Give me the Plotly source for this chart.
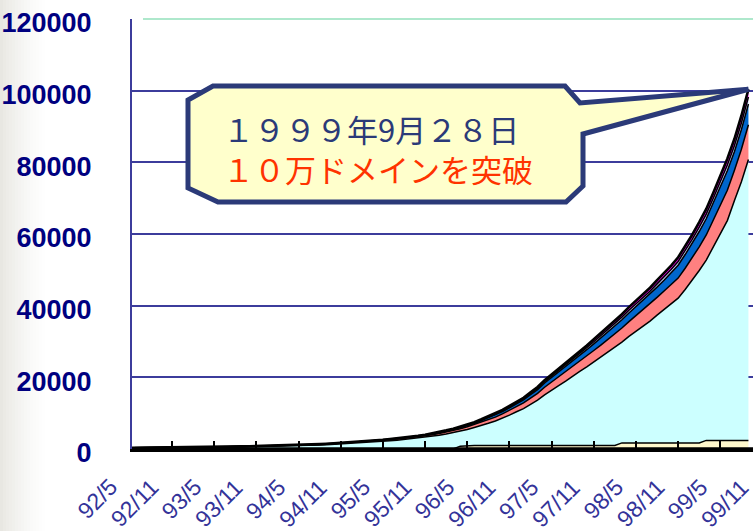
import plotly.graph_objects as go

# ---------------- data ----------------
# monthly categories 92/5 .. 99/9
months = []
_y, _m = 92, 5
while (_y, _m) <= (99, 9):
    months.append(f"{_y}/{_m}")
    _m += 1
    if _m > 12:
        _m, _y = 1, _y + 1

tick_labels = ["92/5", "92/11", "93/5", "93/11", "94/5", "94/11", "95/5", "95/11",
               "96/5", "96/11", "97/5", "97/11", "98/5", "98/11", "99/5", "99/11"]

cream = [0, 0, 0, 0, 0, 0, 0, 0, 0, 0, 0, 0, 0, 0, 0, 0, 0, 0, 0, 0,
         0, 0, 0, 0, 0, 0, 0, 0, 0, 0, 0, 0, 0, 0, 0, 0, 0, 0, 0, 0,
         0, 0, 0, 0, 0, 0, 0, 800, 1000, 1000, 1000, 1000, 1000, 1000, 1000, 1000, 1000,
         1000, 1000, 1000, 1000, 1000, 1000, 1000, 1000, 1000, 1000, 1000, 1000, 1000,
         1700, 1700, 1700, 1700, 1700, 1700, 1700, 1700, 1700, 1700, 1700, 1700,
         2400, 2400, 2400, 2400, 2400, 2400, 2400]

cyan = [285, 290, 310, 320, 335, 350, 365, 385, 400, 415, 440, 465, 490, 510, 535,
        560, 590, 620, 655, 695, 725, 760, 805, 850, 900, 960, 1025, 1105, 1180, 1280,
        1385, 1495, 1610, 1735, 1855, 1985, 2120, 2285, 2445, 2645, 2855, 3060,
        3205, 3485, 3815, 4165, 4530, 4175, 4450, 5020, 5535, 6170, 6800, 7590, 8455,
        9395, 10270, 11455, 12630, 14130, 15510, 16700, 17970, 19395, 20660, 21935,
        23290, 24635, 25985, 27495, 28150, 29725, 31150, 32660, 34010, 35680, 37270,
        38935, 40395, 42835, 45360, 48105, 50325, 53875, 57555, 61335, 66845, 72175, 78380]

salmon = [40, 45, 45, 45, 50, 50, 55, 55, 60, 60, 65, 70, 70, 75, 80, 85, 85, 90, 95, 100,
          105, 115, 120, 125, 130, 140, 150, 160, 175, 190, 205, 220, 240, 255, 275, 295,
          310, 335, 350, 365, 380, 395,
          440, 480, 520, 570, 620, 680, 750, 825, 915, 1000, 1090, 1200, 1320, 1450, 1575,
          1740, 1905, 2110, 2175, 2330, 2495, 2685, 2855, 3020, 3195, 3375, 3555, 3750,
          3925, 4135, 4330, 4525, 4705, 4925, 5130, 5350, 5595, 5915, 6250, 6615, 7000,
          7470, 7965, 8465, 8500, 9100, 9700]

blue = [10, 10, 10, 10, 10, 15, 15, 15, 15, 15, 15, 15, 20, 20, 20, 20, 20, 25, 25, 25,
        25, 30, 30, 30, 35, 35, 40, 40, 45, 45, 50, 55, 60, 65, 70, 75, 80, 85, 90, 100,
        105, 110,
        190, 205, 225, 245, 270, 290, 325, 350, 505, 555, 600, 660, 730, 805, 870, 960,
        1055, 1170, 1260, 1355, 1450, 1560, 1660, 1755, 1855, 1965, 2065, 2180, 2280,
        2405, 2520, 2635, 2735, 2860, 2985, 3110, 3610, 3820, 4035, 4275, 4525, 4825,
        5145, 5470, 5200, 5500, 5800]

lavender = [5, 5, 5, 5, 5, 5, 5, 5, 5, 10, 10, 10, 10, 10, 10, 10, 10, 10, 10, 15,
            15, 15, 15, 15, 15, 20, 20, 20, 20, 25, 25, 25, 30, 30, 35, 35, 40, 40, 45, 50,
            50, 55,
            80, 85, 90, 105, 110, 125, 130, 145, 165, 175, 195, 215, 235, 260, 280, 305,
            340, 375, 405, 435, 470, 500, 535, 565, 600, 630, 665, 700, 735, 775, 805, 845,
            880, 915, 955, 1000, 1040, 1105, 1165, 1235, 1305, 1390, 1490, 1580, 1690,
            1815, 1955]

magenta = [10, 10, 10, 10, 10, 10, 10, 10, 10, 10, 10, 10, 15, 15, 15, 15, 15, 15, 15, 15,
           20, 20, 20, 20, 20, 25, 25, 25, 30, 30, 35, 35, 40, 45, 45, 50, 50, 55, 60, 65,
           70, 75,
           85, 95, 100, 115, 120, 130, 145, 160, 180, 200, 215, 235, 260, 290, 305, 340,
           370, 415, 450, 480, 515, 560, 590, 625, 660, 695, 730, 775, 810, 860, 895, 935,
           970, 1020, 1060, 1105, 1160, 1225, 1290, 1370, 1445, 1540, 1645, 1750, 1865,
           2010, 2165]

callout_line1 = "１９９９年9月２８日"
callout_line2 = "１０万ドメインを突破"

# ---------------- layout constants ----------------
W, H = 753, 531
ML, MR, MT, MB = 132, 0, 19, 82
PW, PH = W - ML - MR, H - MT - MB
XR = [0.3, 88.65]
YR = [0, 120000]


def pxx(px):      # pixel -> paper x
    return (px - ML) / PW


def pxy(py):      # pixel -> paper y
    return (H - MB - py) / PH


def dx2paper(v):  # data x (category index) -> paper
    return (v - XR[0]) / (XR[1] - XR[0])


def dx2px(v):
    return ML + dx2paper(v) * PW


def dy2paper(v):
    return (v - YR[0]) / (YR[1] - YR[0])


fig = go.Figure()

series = [
    (cream, "#FFF8CC"),
    (cyan, "#CCFFFF"),
    (salmon, "#FF8080"),
    (blue, "#0066CC"),
    (lavender, "#CCCCFF"),
    (magenta, "#FF00FF"),
]
for i, (vals, col) in enumerate(series):
    fig.add_trace(go.Scatter(
        x=months, y=vals, mode="lines", stackgroup="one",
        line=dict(color="black", width=2.6 if i == len(series) - 1 else 1.5),
        fillcolor=col, hoverinfo="skip", showlegend=False))

tick_idx = list(range(0, len(months), 6))
tickvals = [months[i] for i in tick_idx]

fig.update_layout(
    width=W, height=H, template="none",
    margin=dict(l=ML, r=MR, t=MT, b=MB, pad=0),
    paper_bgcolor="white", plot_bgcolor="white",
    showlegend=False,
    xaxis=dict(
        type="category", range=XR, automargin=False,
        tickmode="array", tickvals=tickvals, showticklabels=False,
        ticks="inside", ticklen=8, tickwidth=2, tickcolor="black",
        showline=True, linecolor="black", linewidth=3,
        showgrid=False, zeroline=False,
    ),
    yaxis=dict(
        range=YR, automargin=False, tickmode="linear", tick0=0, dtick=20000,
        tickformat="d", ticklabeloverflow="allow",
        showgrid=True, gridcolor="#3C3C9C", gridwidth=2,
        showline=True, linecolor="#3C3C9C", linewidth=2,
        zeroline=False, ticks="",
        ticklabelstandoff=33, ticklabelshift=4,
        tickfont=dict(family="Liberation Sans, Arial, sans-serif",
                      size=27, color="#000080", weight="bold"),
    ),
)

shapes = []
# left-edge grey gradient of the page
n = 16
for k in range(n):
    a = 0.5 * (1 - k / n) ** 1.5
    shapes.append(dict(type="rect", xref="paper", yref="paper",
                       x0=pxx(k * 3), x1=pxx(k * 3 + 3), y0=pxy(H), y1=pxy(0),
                       line=dict(width=0), fillcolor=f"rgba(210,208,198,{a:.3f})",
                       layer="below"))
# light green top border line
shapes.append(dict(type="line", xref="paper", yref="paper",
                   x0=pxx(143), x1=1, y0=1, y1=1,
                   line=dict(color="#AEE8CC", width=2)))
# heavy black base line along the category axis
shapes.append(dict(type="line", xref="paper", yref="y",
                   x0=0, x1=1, y0=0, y1=0,
                   line=dict(color="black", width=3.5)))

# callout with pointer to the last data point
tip_x = dx2paper(len(months) - 1)
tip_y = dy2paper(sum(s[-1] for s, _ in series))
pts = [(pxx(213), pxy(86)), (pxx(565), pxy(86)), (pxx(580), pxy(103)),
       (tip_x, tip_y),
       (pxx(583), pxy(134)), (pxx(583), pxy(186)), (pxx(566), pxy(202)),
       (pxx(218), pxy(202)), (pxx(188), pxy(188)), (pxx(188), pxy(100))]
path = "M " + " L ".join(f"{x:.5f},{y:.5f}" for x, y in pts) + " Z"
shapes.append(dict(type="path", xref="paper", yref="paper", path=path,
                   fillcolor="#FFFFCC", line=dict(color="#2B3A78", width=5)))
fig.update_layout(shapes=shapes)

cjk = "Noto Sans CJK JP, sans-serif"
fig.add_annotation(xref="paper", yref="paper", x=pxx(221), y=pxy(148.5),
                   xanchor="left", yanchor="middle", align="left", showarrow=False,
                   text=(f"{callout_line1}<br>"
                         f"<span style='color:#FF3300'>{callout_line2}</span>"),
                   font=dict(family=cjk, size=31, color="#2B3A78"))

# category labels, rotated 45 deg; their text end sits just below-left of each tick
LAB_SIZE = 23
CHAR_W = {"/": 0.278}


def text_len(s):
    return sum(CHAR_W.get(c, 0.556) for c in s) * LAB_SIZE


for j, lab in enumerate(tick_labels):
    tick_px = dx2px(j * 6)
    half = 0.3536 * text_len(lab)
    cx = tick_px - 17 - half
    cy = 483 + half
    fig.add_annotation(xref="paper", yref="paper", x=pxx(cx), y=pxy(cy),
                       xanchor="center", yanchor="middle", showarrow=False,
                       textangle=-45, text=lab,
                       font=dict(family="Liberation Sans, Arial, sans-serif",
                                 size=LAB_SIZE, color="#333399"))

fig.write_html("out.html")
